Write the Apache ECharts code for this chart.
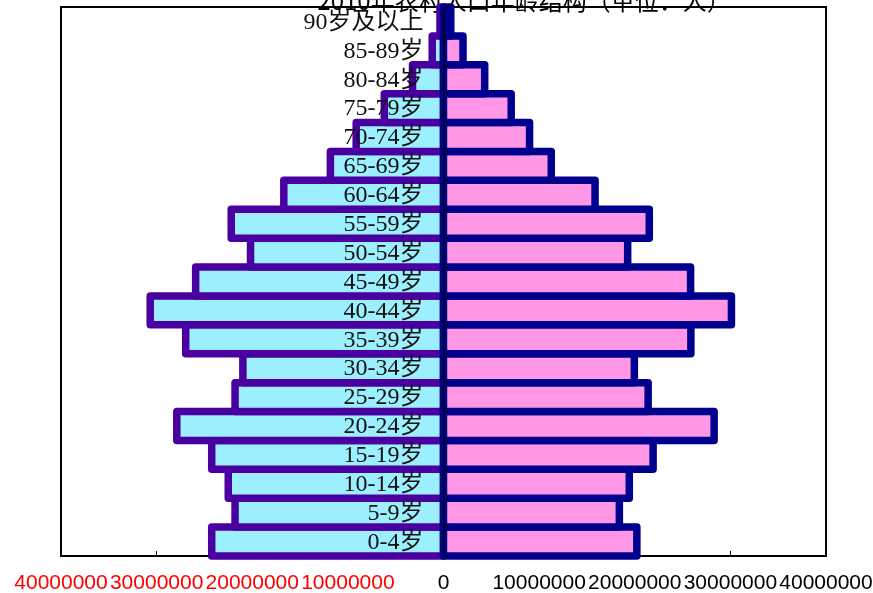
<!DOCTYPE html>
<html>
<head>
<meta charset="utf-8">
<script src="https://cdn.jsdelivr.net/npm/echarts@6/dist/echarts.min.js"></script>
<style>
  html, body { margin: 0; padding: 0; background: #fff; }
  #chart { width: 873px; height: 593px; }
</style>
</head>
<body>
<div id="chart"></div>
<script>
// Age groups, bottom to top
const categories = ['0-4岁', '5-9岁', '10-14岁', '15-19岁', '20-24岁', '25-29岁', '30-34岁',
  '35-39岁', '40-44岁', '45-49岁', '50-54岁', '55-59岁', '60-64岁', '65-69岁', '70-74岁',
  '75-79岁', '80-84岁', '85-89岁', '90岁及以上'];

// Rural population by age group (persons)
const male = [24240000, 21800000, 22510000, 24240000, 27890000, 21800000, 20980000,
  26960000, 30670000, 25920000, 20180000, 22200000, 16700000, 11830000, 9130000,
  6190000, 3240000, 1180000, 370000];
const female = [20220000, 18390000, 19430000, 21920000, 28300000, 21400000, 19960000,
  25870000, 30110000, 25840000, 19260000, 21520000, 15850000, 11270000, 9000000,
  7080000, 4310000, 2040000, 760000];

// Value axis range and step
const axisMin = -40000000;
const axisMax = 40000000;
const axisStep = 10000000;

const titleText = '2010年农村人口年龄结构（单位：人）';

const labelFont = '24px "Liberation Serif", "Noto Sans CJK SC", serif';

// Bars with the outline centred on the bar edge (each bar fills its whole band);
// optionally the age-group name is written just left of the zero line.
function outlinedBar(fill, stroke, withName) {
  return function (params, api) {
    const idx = api.value(1);
    const p0 = api.coord([0, idx]);
    const p1 = api.coord([api.value(0), idx]);
    const h = api.size([0, 1])[1];
    const children = [{
      type: 'rect',
      shape: {
        x: Math.min(p0[0], p1[0]),
        y: p0[1] - h / 2,
        width: Math.abs(p1[0] - p0[0]),
        height: h
      },
      style: { fill: fill, stroke: stroke, lineWidth: 7.5, lineJoin: 'round' }
    }];
    if (withName) {
      children.push({
        type: 'text', z2: 100,
        x: p0[0] - 20, y: p0[1] + 1,
        style: {
          text: categories[params.dataIndex], font: labelFont, fill: '#111',
          align: 'right', verticalAlign: 'middle'
        }
      });
    }
    return { type: 'group', children: children };
  };
}

const chart = echarts.init(document.getElementById('chart'), null, { renderer: 'canvas' });

chart.setOption({
  animation: false,
  backgroundColor: '#ffffff',
  grid: {
    left: 61, right: 47, top: 7, bottom: 37,
    outerBoundsMode: 'none', containLabel: false,
    show: true, borderColor: '#000', borderWidth: 2, backgroundColor: 'transparent'
  },
  graphic: [{
    type: 'text', x: 524, y: 0.5, z: 0,
    style: {
      text: titleText, fill: '#000', align: 'center', verticalAlign: 'middle',
      font: '24px "Noto Sans CJK SC", sans-serif'
    }
  }],
  xAxis: {
    type: 'value', min: axisMin, max: axisMax, interval: axisStep,
    splitLine: { show: false },
    axisLine: { show: true, lineStyle: { color: '#000', width: 2 } },
    axisTick: { show: true, inside: true, length: 5, lineStyle: { color: '#000' } },
    axisLabel: {
      margin: 17, fontSize: 21, fontFamily: '"Liberation Sans", Arial, sans-serif',
      showMinLabel: true, showMaxLabel: true, hideOverlap: false,
      formatter: v => String(Math.abs(v)),
      color: v => (Number(v) < 0 ? '#ff0000' : '#000000')
    }
  },
  yAxis: {
    type: 'category', data: categories, z: 5,
    axisLine: { show: true, onZero: true, lineStyle: { color: '#000', width: 1.5 } },
    axisTick: { show: true, inside: true, interval: 0, length: 6, lineStyle: { color: '#000' } },
    axisLabel: { show: false },
    splitLine: { show: false }
  },
  series: [
    {
      name: '男', type: 'custom',
      data: male.map((v, i) => [-v, i]),
      encode: { x: 0, y: 1 },
      renderItem: outlinedBar('#9cefff', '#4a00a0', true)
    },
    {
      name: '女', type: 'custom',
      data: female.map((v, i) => [v, i]),
      encode: { x: 0, y: 1 },
      renderItem: outlinedBar('#ff96e6', '#00008f', false)
    }
  ]
});
</script>
</body>
</html>
